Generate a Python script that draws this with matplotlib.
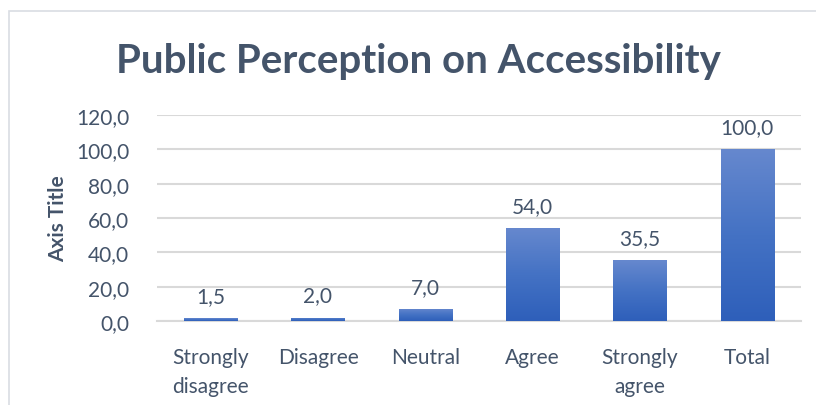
import numpy as np
import matplotlib.pyplot as plt
from matplotlib.patches import Rectangle
from matplotlib.colors import LinearSegmentedColormap

categories = ["Strongly\ndisagree", "Disagree", "Neutral", "Agree", "Strongly\nagree", "Total"]
values = [1.5, 2.0, 7.0, 54.0, 35.5, 100.0]
yticks = [0, 20, 40, 60, 80, 100, 120]

text_color = "#44546A"
grid_color = "#D9D9D9"
bar_cmap = LinearSegmentedColormap.from_list("bar_grad", ["#2E5FBA", "#4472C4", "#6688CE"])

plt.rcParams['font.family'] = ['Lato', 'DejaVu Sans']

fig = plt.figure(figsize=(8.16, 4.06), dpi=100)
# chart frame
fig.patches.append(Rectangle((9 / 816, -0.1), 1.0, 1.1 - 12 / 406, transform=fig.transFigure,
                             fill=False, edgecolor="#D9DDE3", linewidth=1.2))

ax = fig.add_axes([157 / 816, (406 - 322) / 406, 644 / 816, 206 / 406])
x = np.arange(len(values))
bars = ax.bar(x, values, width=0.5, color="none", zorder=3)

grad = np.linspace(0, 1, 256).reshape(-1, 1)
for b, v in zip(bars, values):
    x0 = b.get_x()
    im = ax.imshow(grad, cmap=bar_cmap, aspect="auto", origin="lower",
                   extent=(x0, x0 + b.get_width(), 0, v), zorder=3)
    im.set_clip_path(b)
    ax.text(b.get_x() + b.get_width() / 2, v + 7, f"{v:.1f}".replace(".", ","),
            ha="center", va="bottom", fontsize=15, color=text_color, zorder=4)

ax.set_xlim(-0.5, len(values) - 0.5)
ax.set_ylim(0, 120)
ax.set_yticks(yticks)
ax.set_yticklabels([f"{t:.1f}".replace(".", ",") for t in yticks])
ax.set_xticks(x)
ax.set_xticklabels(categories, linespacing=1.55)
ax.tick_params(axis="both", length=0, labelsize=15, labelcolor=text_color)
ax.tick_params(axis="y", pad=20)
ax.tick_params(axis="x", pad=19)
ax.yaxis.grid(True, color=grid_color, linewidth=1.5, zorder=0)
ax.set_axisbelow(True)
for s in ["top", "right", "left"]:
    ax.spines[s].set_visible(False)
ax.spines["bottom"].set_color(grid_color)
ax.spines["bottom"].set_linewidth(1.5)

ax.set_ylabel("Axis Title", fontsize=15, fontweight="bold", color=text_color, labelpad=6)
fig.text(418 / 816, 1 - 61 / 406, "Public Perception on Accessibility", ha="center", va="center",
         fontsize=29, fontweight="bold", color=text_color)

fig.savefig("out.png", dpi=100)
